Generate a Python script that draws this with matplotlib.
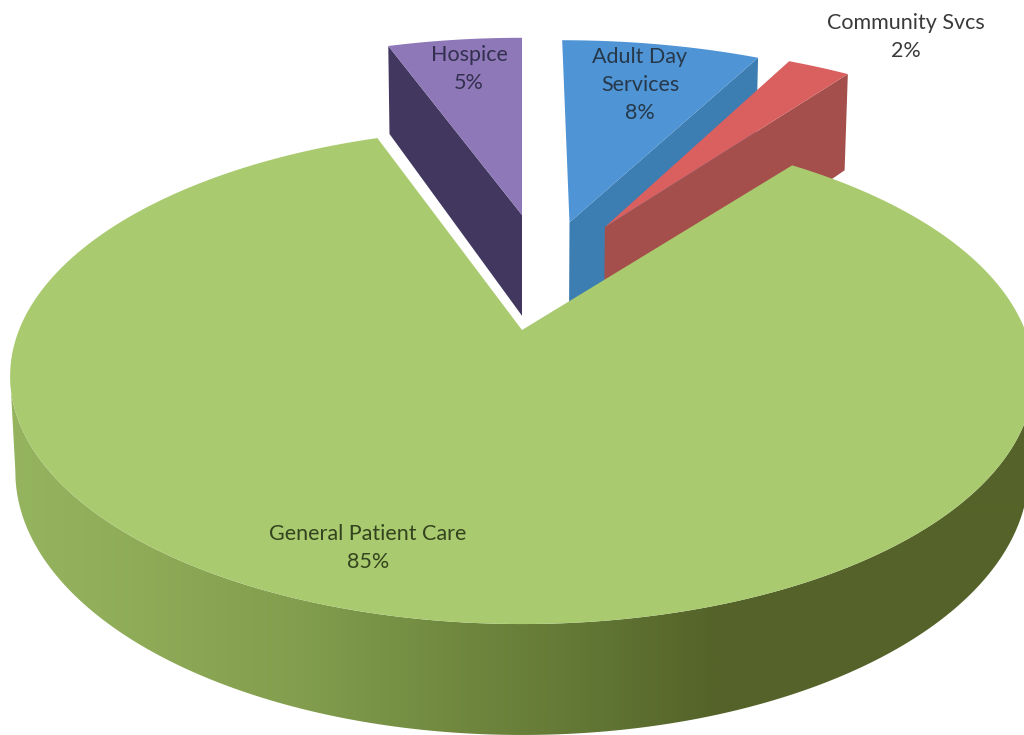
import numpy as np
import matplotlib
matplotlib.use("Agg")
import matplotlib.pyplot as plt
from matplotlib.colors import LinearSegmentedColormap
from matplotlib.patches import Polygon

# data (clockwise from the top, starting at Adult Day Services)
categories = ["Adult Day\nServices", "Community Svcs", "General Patient Care", "Hospice"]
values = [7.6, 2.4, 84.6, 5.4]
pct_labels = ["8%", "2%", "85%", "5%"]

# style
top_colors = ["#4f94d5", "#d9605f", "#a9ca6e", "#8e78b8"]
cut_colors = ["#3c7db2", "#a54f4c", None, "#41375f"]
text_colors = ["#26384a", "#3a3a3a", "#34431f", "#33304f"]
# explosion offset of each slice in the pie's plane, radius, thickness factor
offsets = [(0.103, 0.49), (0.179, 0.467), (0.0, 0.0), (0.0, 0.527)]
radii = [1.07, 1.07, 1.0, 1.05]
thick = [1.2, 1.25, 1.0, 1.17]
# small trims of each slice's two edges (degrees), for the white gaps and perspective
edge_trim = [(0.0, 0.0), (0.0, 0.0), (2.0, -0.3), (0.5, 0.0)]
label_pos = [(640, 85), (906, 37), (368, 548), (469, 69)]
start_angle = 0.0
rim_stops = [(0.00, "#96b55f"), (0.14, "#8fab58"), (0.29, "#829e4e"), (0.44, "#70893f"),
             (0.58, "#617634"), (0.70, "#556329"), (1.00, "#556229")]
green_side = LinearSegmentedColormap.from_list("side", rim_stops)

CX, CY, A, B, K, C, M = 522, 330, 503, 239.5, 0.1855, 94.4, 0.01


def project(u, v, t=0.0):
    w = 1 + K * v + M * t
    return CX + A * u / w, CY + (-B * v + C * t) / w


plt.rcParams["font.family"] = ["Lato", "DejaVu Sans"]
fig = plt.figure(figsize=(10.24, 7.35), dpi=100)
ax = fig.add_axes([0, 0, 1, 1])

edges = start_angle + np.concatenate([[0], np.cumsum(values)]) / sum(values) * 360


def arc(i, n=240):
    th = np.radians(np.linspace(edges[i] + edge_trim[i][0], edges[i + 1] + edge_trim[i][1], n))
    ou, ov = offsets[i]
    return ou + radii[i] * np.sin(th), ov + radii[i] * np.cos(th)


def wedge(i):
    u, v = arc(i)
    ou, ov = offsets[i]
    x, y = project(np.r_[ou, u], np.r_[ov, v], 0)
    return np.c_[x, y]


def cut_face(i, side):
    """side=0 first radial edge, side=-1 last radial edge."""
    u, v = arc(i)
    ou, ov = offsets[i]
    t = thick[i]
    return [project(ou, ov, 0), project(u[side], v[side], 0),
            project(u[side], v[side], t), project(ou, ov, t)]


# Hospice: first (left) cut face shows
ax.add_patch(Polygon(cut_face(3, 0), closed=True, fc=cut_colors[3], ec="none", zorder=2))
ax.add_patch(Polygon(wedge(3), closed=True, fc=top_colors[3], ec="none", zorder=3))
# Adult Day: last (right) cut face shows
ax.add_patch(Polygon(cut_face(0, -1), closed=True, fc=cut_colors[0], ec="none", zorder=2))
ax.add_patch(Polygon(wedge(0), closed=True, fc=top_colors[0], ec="none", zorder=3))
# Community: last (right) cut face shows
ax.add_patch(Polygon(cut_face(1, -1), closed=True, fc=cut_colors[1], ec="none", zorder=4))
ax.add_patch(Polygon(wedge(1), closed=True, fc=top_colors[1], ec="none", zorder=5))

# General Patient Care: rim (front part, tangent to tangent) with a gradient, then top face
u, v = arc(2, 600)
xt, yt = project(u, v, 0)
xb, yb = project(u, v, 1)
i_right, i_left = int(np.argmax(xt)), int(np.argmin(xt))
front_top = np.c_[xt, yt][i_right:i_left + 1]
front_bot = np.c_[xb, yb][i_right:i_left + 1]
rim_patch = Polygon(np.r_[front_top, front_bot[::-1]], closed=True,
                    fc="none", ec="none", zorder=6)
ax.add_patch(rim_patch)
gradient = np.linspace(0, 1, 512)[None, :]
img = ax.imshow(gradient, extent=(0, 1024, 735, 0), cmap=green_side, aspect="auto",
                zorder=6, interpolation="bilinear")
img.set_clip_path(rim_patch)
ax.add_patch(Polygon(wedge(2), closed=True, fc=top_colors[2], ec="none", zorder=7))

for i, (x, y) in enumerate(label_pos):
    ax.text(x, y, categories[i] + "\n" + pct_labels[i], ha="center", va="center",
            fontsize=15.5, color=text_colors[i], linespacing=1.47, zorder=10)

ax.set_xlim(0, 1024)
ax.set_ylim(735, 0)
ax.axis("off")
fig.savefig("out.png", dpi=100, facecolor="white")
